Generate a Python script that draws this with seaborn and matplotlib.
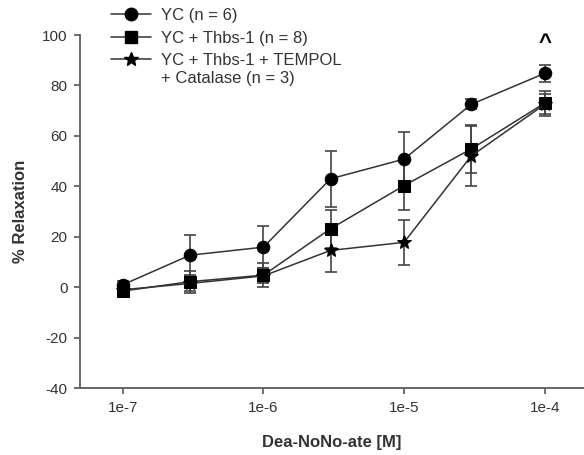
import numpy as np
import pandas as pd
import matplotlib
matplotlib.use("Agg")
import matplotlib.pyplot as plt
import seaborn as sns
from matplotlib.lines import Line2D

sns.set_style("ticks")
plt.rcParams['font.family'] = ['Liberation Sans', 'DejaVu Sans']
plt.rcParams['axes.unicode_minus'] = False

conc = [1e-7, 3e-7, 1e-6, 3e-6, 1e-5, 3e-5, 1e-4]
series_names = ["YC (n = 6)", "YC + Thbs-1 (n = 8)", "YC + Thbs-1 + TEMPOL\n+ Catalase (n = 3)"]
yc_mean = [1.0, 12.7, 15.9, 43.0, 50.8, 72.5, 84.8]
yc_err = [1.5, 8.0, 8.3, 11.2, 10.7, 2.0, 3.5]
thbs_mean = [-1.5, 2.2, 4.8, 23.2, 40.3, 54.8, 73.0]
thbs_err = [1.5, 4.4, 4.8, 7.5, 9.5, 9.5, 5.0]
temp_mean = [-1.0, 1.5, 4.5, 14.6, 17.8, 52.0, 72.5]
temp_err = [1.0, 3.0, 3.0, 8.4, 9.0, 12.0, 4.0]
xtick_labels = ["1e-7", "1e-6", "1e-5", "1e-4"]
xtick_vals = [1e-7, 1e-6, 1e-5, 1e-4]
yticks = [-40, -20, 0, 20, 40, 60, 80, 100]

means = [yc_mean, thbs_mean, temp_mean]
errs = [yc_err, thbs_err, temp_err]
markers = ["o", "s", "*"]
msizes = [9, 8, 10]

df = pd.DataFrame({
    "conc": conc * 3,
    "value": yc_mean + thbs_mean + temp_mean,
    "group": sum([[n] * len(conc) for n in series_names], []),
})

fig = plt.figure(figsize=(5.84, 4.55), dpi=100)
ax = fig.add_axes([0.137, 0.147, 0.863, 0.776])

for m, e in zip(means, errs):
    ax.errorbar(conc, m, yerr=e, fmt="none", ecolor="#444444", elinewidth=1.2,
                capsize=4, capthick=1.2, zorder=2)

for name, mk, ms in zip(series_names, markers, msizes):
    sub = df[df["group"] == name]
    sns.lineplot(data=sub, x="conc", y="value", ax=ax, color="#333333",
                 linewidth=1.1, marker=mk, markersize=ms, markerfacecolor="black",
                 markeredgecolor="black", legend=False, zorder=3)

ax.set_xscale("log")
ax.set_xlim(10 ** -7.305, 10 ** -3.72)
ax.set_ylim(-40, 100)
ax.xaxis.set_major_locator(matplotlib.ticker.FixedLocator(xtick_vals))
ax.xaxis.set_minor_locator(matplotlib.ticker.NullLocator())
ax.set_xticklabels(xtick_labels)
ax.set_yticks(yticks)
ax.tick_params(axis="both", labelsize=11, colors="#555555", labelcolor="#333333",
               length=4, width=1.2, pad=5)
for s in ["left", "bottom"]:
    ax.spines[s].set_color("#666666")
    ax.spines[s].set_linewidth(1.4)
sns.despine(ax=ax)

ax.set_xlabel("Dea-NoNo-ate [M]", fontsize=12, fontweight="bold", color="#333333", labelpad=15)
ax.set_ylabel("% Relaxation", fontsize=12, fontweight="bold", color="#333333", labelpad=10)

ax.text(1e-4, 96.5, "^", ha="center", va="center", fontsize=16, fontweight="bold", color="black")

handles = [Line2D([0], [0], color="#333333", linewidth=1.1, marker=mk, markersize=ms,
                  markerfacecolor="black", markeredgecolor="black")
           for mk, ms in zip(markers, msizes)]
first_lines = [n.split("\n")[0] for n in series_names]
leg = fig.legend(handles, first_lines, loc="upper left", bbox_to_anchor=(0.175, 1.0),
                 frameon=False, fontsize=12, handlelength=2.4, labelspacing=0.45,
                 handletextpad=0.6, borderaxespad=0.1)
for t in leg.get_texts():
    t.set_color("#333333")

# continuation line of the third legend entry, placed under its first line
fig.canvas.draw()
renderer = fig.canvas.get_renderer()
bb = leg.get_texts()[2].get_window_extent(renderer)
x0, y0 = fig.transFigure.inverted().transform((bb.x0, bb.y0))
fig.text(x0, y0 - 3 / 455, series_names[2].split("\n")[1], ha="left", va="top",
         fontsize=12, color="#333333")

fig.savefig("out.png", dpi=100)
